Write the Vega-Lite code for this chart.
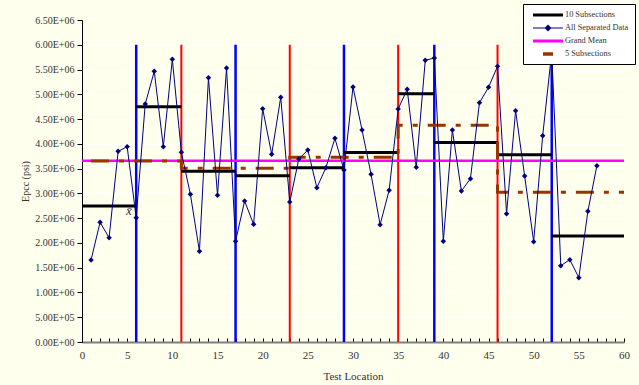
{
  "$schema": "https://vega.github.io/schema/vega-lite/v6.json",
  "width": 542,
  "height": 322,
  "autosize": {"type": "none"},
  "padding": {"left": 82, "top": 20, "right": 15, "bottom": 43},
  "background": "#FFFFEE",
  "config": {"view": {"stroke": null}, "font": "Liberation Serif"},
  "datasets": {
    "pts": [
      {"loc": 1, "value": 1655000}, {"loc": 2, "value": 2416000}, {"loc": 3, "value": 2105000},
      {"loc": 4, "value": 3849000}, {"loc": 5, "value": 3942000}, {"loc": 6, "value": 2509000},
      {"loc": 7, "value": 4804000}, {"loc": 8, "value": 5464000}, {"loc": 9, "value": 3942000},
      {"loc": 10, "value": 5706000}, {"loc": 11, "value": 3829000}, {"loc": 12, "value": 2981000},
      {"loc": 13, "value": 1831000}, {"loc": 14, "value": 5335000}, {"loc": 15, "value": 2961000},
      {"loc": 16, "value": 5531000}, {"loc": 17, "value": 2033000}, {"loc": 18, "value": 2846000},
      {"loc": 19, "value": 2376000}, {"loc": 20, "value": 4709000}, {"loc": 21, "value": 3789000},
      {"loc": 22, "value": 4940000}, {"loc": 23, "value": 2826000}, {"loc": 24, "value": 3694000},
      {"loc": 25, "value": 3876000}, {"loc": 26, "value": 3115000}, {"loc": 27, "value": 3519000},
      {"loc": 28, "value": 4111000}, {"loc": 29, "value": 3472000}, {"loc": 30, "value": 5147000},
      {"loc": 31, "value": 4279000}, {"loc": 32, "value": 3385000}, {"loc": 33, "value": 2368000},
      {"loc": 34, "value": 3062000}, {"loc": 35, "value": 4703000}, {"loc": 36, "value": 5101000},
      {"loc": 37, "value": 3526000}, {"loc": 38, "value": 5686000}, {"loc": 39, "value": 5733000},
      {"loc": 40, "value": 2033000}, {"loc": 41, "value": 4279000}, {"loc": 42, "value": 3048000},
      {"loc": 43, "value": 3296000}, {"loc": 44, "value": 4831000}, {"loc": 45, "value": 5141000},
      {"loc": 46, "value": 5565000}, {"loc": 47, "value": 2590000}, {"loc": 48, "value": 4669000},
      {"loc": 49, "value": 3351000}, {"loc": 50, "value": 2025000}, {"loc": 51, "value": 4165000},
      {"loc": 52, "value": 5850000}, {"loc": 53, "value": 1541000}, {"loc": 54, "value": 1662000},
      {"loc": 55, "value": 1299000}, {"loc": 56, "value": 2638000}, {"loc": 57, "value": 3559000}
    ],
    "vlines": [
      {"loc": 6, "group": "blue"}, {"loc": 17, "group": "blue"}, {"loc": 29, "group": "blue"},
      {"loc": 39, "group": "blue"}, {"loc": 52, "group": "blue"},
      {"loc": 11, "group": "red"}, {"loc": 23, "group": "red"}, {"loc": 35, "group": "red"},
      {"loc": 46, "group": "red"}
    ],
    "sub10": [
      {"start": 0, "end": 6, "value": 2745000},
      {"start": 6, "end": 11, "value": 4747000},
      {"start": 11, "end": 17, "value": 3445000},
      {"start": 17, "end": 23, "value": 3358000},
      {"start": 23, "end": 29, "value": 3517000},
      {"start": 29, "end": 35, "value": 3823000},
      {"start": 35, "end": 39, "value": 5011000},
      {"start": 39, "end": 46, "value": 4029000},
      {"start": 46, "end": 52, "value": 3781000},
      {"start": 52, "end": 60, "value": 2140000}
    ],
    "sub5": [
      {"loc": 1, "value": 3654000}, {"loc": 11, "value": 3506000}, {"loc": 23, "value": 3728000},
      {"loc": 35, "value": 4374000}, {"loc": 46, "value": 3025000}, {"loc": 60, "value": 3025000}
    ],
    "mean": [{"value": 3660000}],
    "note": [{"loc": 5.2, "value": 2640000, "label": "x̄"}],
    "series": [
      {"series": "10 Subsections"}, {"series": "All Separated Data"},
      {"series": "Grand Mean"}, {"series": "5 Subsections"}
    ]
  },
  "encoding": {
    "x": {
      "type": "quantitative",
      "scale": {"domain": [0, 60], "nice": false, "zero": false},
      "axis": {
        "title": "Test Location",
        "values": [0,1,2,3,4,5,6,7,8,9,10,11,12,13,14,15,16,17,18,19,20,21,22,23,24,25,26,27,28,29,30,31,32,33,34,35,36,37,38,39,40,41,42,43,44,45,46,47,48,49,50,51,52,53,54,55,56,57,58,59,60],
        "labelExpr": "datum.value % 5 == 0 ? datum.label : ''",
        "grid": false,
        "domainColor": "#808080",
        "domainWidth": 2,
        "tickColor": "#000000",
        "tickSize": -4,
        "labelPadding": 11,
        "labelFont": "Liberation Serif",
        "labelFontSize": 11,
        "labelColor": "#333333",
        "labelFlush": false,
        "titleFont": "Liberation Serif",
        "titleFontSize": 11,
        "titleFontWeight": "normal",
        "titleColor": "#333333",
        "titlePadding": 10
      }
    },
    "y": {
      "type": "quantitative",
      "scale": {"domain": [0, 6500000], "nice": false},
      "axis": {
        "title": "Epcc (psi)",
        "values": [0,500000,1000000,1500000,2000000,2500000,3000000,3500000,4000000,4500000,5000000,5500000,6000000,6500000],
        "labelExpr": "replace(format(datum.value, '.2e'), 'e+', 'E+0')",
        "grid": true,
        "gridColor": "#FFFFFF",
        "gridWidth": 1,
        "domainColor": "#000000",
        "tickColor": "#000000",
        "tickSize": 5,
        "labelPadding": 3,
        "labelFont": "Liberation Serif",
        "labelFontSize": 10,
        "labelColor": "#333333",
        "titleFont": "Liberation Serif",
        "titleFontSize": 10,
        "titleFontWeight": "normal",
        "titleColor": "#333333",
        "titlePadding": 4
      }
    }
  },
  "layer": [
    {
      "data": {"name": "vlines"},
      "transform": [{"filter": "datum.group == 'blue'"}],
      "mark": {"type": "rule", "color": "#0000FF", "strokeWidth": 2.5},
      "encoding": {"x": {"field": "loc"}, "y": {"datum": 0}, "y2": {"datum": 6000000}}
    },
    {
      "data": {"name": "vlines"},
      "transform": [{"filter": "datum.group == 'red'"}],
      "mark": {"type": "rule", "color": "#FF0000", "strokeWidth": 2},
      "encoding": {"x": {"field": "loc"}, "y": {"datum": 0}, "y2": {"datum": 6000000}}
    },
    {
      "data": {"name": "mean"},
      "mark": {"type": "rule", "color": "#FF00FF", "strokeWidth": 2.5},
      "encoding": {"x": {"datum": 0}, "x2": {"datum": 60}, "y": {"field": "value"}}
    },
    {
      "data": {"name": "sub10"},
      "mark": {"type": "rule", "color": "#000000", "strokeWidth": 3},
      "encoding": {"x": {"field": "start"}, "x2": {"field": "end"}, "y": {"field": "value"}}
    },
    {
      "data": {"name": "sub5"},
      "mark": {"type": "line", "color": "#993300", "strokeWidth": 3, "interpolate": "step-after", "strokeDash": [18, 10, 5, 10]},
      "encoding": {"x": {"field": "loc"}, "y": {"field": "value"}}
    },
    {
      "data": {"name": "pts"},
      "mark": {"type": "line", "color": "#000080", "strokeWidth": 1},
      "encoding": {"x": {"field": "loc"}, "y": {"field": "value"}}
    },
    {
      "data": {"name": "pts"},
      "mark": {"type": "point", "shape": "diamond", "filled": true, "color": "#000080", "size": 30, "opacity": 1},
      "encoding": {"x": {"field": "loc"}, "y": {"field": "value"}}
    },
    {
      "data": {"name": "note"},
      "mark": {"type": "text", "font": "Liberation Serif", "fontStyle": "italic", "fontSize": 13, "color": "#333333", "baseline": "middle", "align": "center"},
      "encoding": {"x": {"field": "loc"}, "y": {"field": "value"}, "text": {"field": "label"}}
    },
    {
      "data": {"name": "series"},
      "transform": [{"filter": "datum.series == 'none'"}],
      "mark": {"type": "point", "filled": true, "opacity": 1},
      "encoding": {
        "x": {"datum": 0},
        "y": {"datum": 0},
        "color": {
          "field": "series",
          "type": "nominal",
          "scale": {
            "domain": ["10 Subsections", "All Separated Data", "Grand Mean", "5 Subsections"],
            "range": ["#000000", "#000080", "#FF00FF", "#993300"]
          },
          "legend": {
            "title": null,
            "orient": "none",
            "legendX": 441,
            "legendY": -16,
            "fillColor": "#FFFFFF",
            "strokeColor": "#000000",
            "padding": 6,
            "symbolSize": 100,
            "symbolStrokeWidth": 0,
            "symbolOffset": 4,
            "labelOffset": 22,
            "rowPadding": 4,
            "labelFont": "Liberation Serif",
            "labelFontSize": 8.3,
            "labelColor": "#333333",
            "labelLimit": 300
          }
        },
        "shape": {
          "field": "series",
          "type": "nominal",
          "scale": {
            "domain": ["10 Subsections", "All Separated Data", "Grand Mean", "5 Subsections"],
            "range": [
              "M-1,-0.3H5V0.3H-1Z",
              "M-1,-0.1H5V0.1H-1Z M2,-0.7L2.7,0L2,0.7L1.3,0Z",
              "M-1,-0.3H5V0.3H-1Z",
              "M1,-0.35H3V0.35H1Z"
            ]
          },
          "legend": null
        }
      }
    }
  ]
}
